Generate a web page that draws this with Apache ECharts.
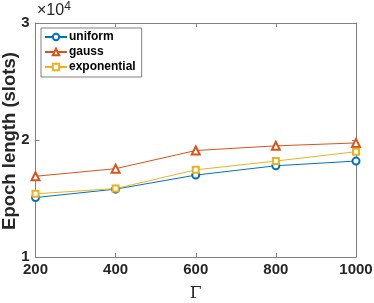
<!DOCTYPE html>
<html><head><meta charset="utf-8">
<script src="https://cdn.jsdelivr.net/npm/echarts@6/dist/echarts.min.js"></script>
<style>html,body{margin:0;padding:0;background:#fff}#c{width:374px;height:303px}</style>
</head><body><div id="c"></div>
<script>
const categories = [200, 400, 600, 800, 1000];
const uniform = [15080, 15800, 17000, 17800, 18200];
const gauss = [16900, 17550, 19100, 19500, 19750];
const exponential = [15400, 15850, 17450, 18200, 19000];
const yTicks = [10000, 20000, 30000];

const chart = echarts.init(document.getElementById('c'));
const font = 'Helvetica, Arial, "Liberation Sans", sans-serif';
const axisLine = {show: true, lineStyle: {color: '#808080', width: 1}};
const mk = (name, data, color, symbol, size) => ({
  name, type: 'line', data: categories.map((x, i) => [x, data[i]]),
  symbol, symbolSize: size, showSymbol: true,
  itemStyle: {color, borderColor: color, borderWidth: 1},
  lineStyle: {color, width: 1}
});
chart.setOption({
  animation: false,
  grid: {left: 35.5, right: 18, top: 23, bottom: 46, outerBoundsMode: 'none', containLabel: false},
  legend: {
    left: 41, top: 28, orient: 'vertical',
    data: ['uniform', 'gauss', 'exponential'],
    backgroundColor: '#fff', borderColor: '#808080', borderWidth: 1, borderRadius: 0,
    padding: [3, 6, 4, 3], itemGap: 3, itemWidth: 22, itemHeight: 8,
    textStyle: {fontFamily: font, fontWeight: 'bold', fontSize: 12, color: '#000', padding: [0,0,0,-3]}
  },
  xAxis: [{
    type: 'value', min: 200, max: 1000, interval: 200, position: 'bottom',
    axisLine, splitLine: {show: false},
    axisTick: {inside: true, length: 4, lineStyle: {color: '#808080'}},
    axisLabel: {fontFamily: font, fontWeight: 'bold', fontSize: 15, color: '#262626', margin: 5,
      formatter: v => String(v)},
    name: 'Γ', nameLocation: 'middle', nameGap: 28,
    nameTextStyle: {fontFamily: '"DejaVu Serif", "Liberation Serif", serif', fontSize: 17, color: '#262626'}
  }, {
    type: 'value', min: 200, max: 1000, interval: 200, position: 'top',
    axisLine, splitLine: {show: false},
    axisTick: {inside: true, length: 4, lineStyle: {color: '#808080'}},
    axisLabel: {show: false}
  }],
  yAxis: [{
    type: 'value', min: yTicks[0], max: yTicks[yTicks.length - 1], interval: 10000, position: 'left',
    axisLine, splitLine: {show: false},
    axisTick: {inside: true, length: 4, lineStyle: {color: '#808080'}},
    axisLabel: {fontFamily: font, fontWeight: 'bold', fontSize: 15, color: '#262626', margin: 6,
      formatter: v => String(v / 10000)}
  }, {
    type: 'value', min: yTicks[0], max: yTicks[yTicks.length - 1], interval: 10000, position: 'right',
    axisLine, splitLine: {show: false},
    axisTick: {inside: true, length: 4, lineStyle: {color: '#808080'}},
    axisLabel: {show: false}
  }],
  graphic: [{
    type: 'text', left: 37, top: 1,
    style: {text: '×10{s|4}', rich: {s: {fontSize: 12, verticalAlign: 'top', padding: [0,0,7,0]}},
      fontFamily: font, fontSize: 16, fill: '#262626'}
  }, {
    type: 'text', x: 10, y: 141, rotation: Math.PI / 2,
    style: {text: 'Epoch length (slots)', fontFamily: font, fontWeight: 'bold', fontSize: 18.5,
      fill: '#262626', align: 'center', verticalAlign: 'middle'}
  }],
  series: [
    mk('uniform', uniform, '#0072BD', 'emptyCircle', 7),
    mk('gauss', gauss, '#D95319', 'emptyTriangle', 8),
    mk('exponential', exponential, '#EDB120', 'emptyRect', 6)
  ]
});
</script></body></html>
